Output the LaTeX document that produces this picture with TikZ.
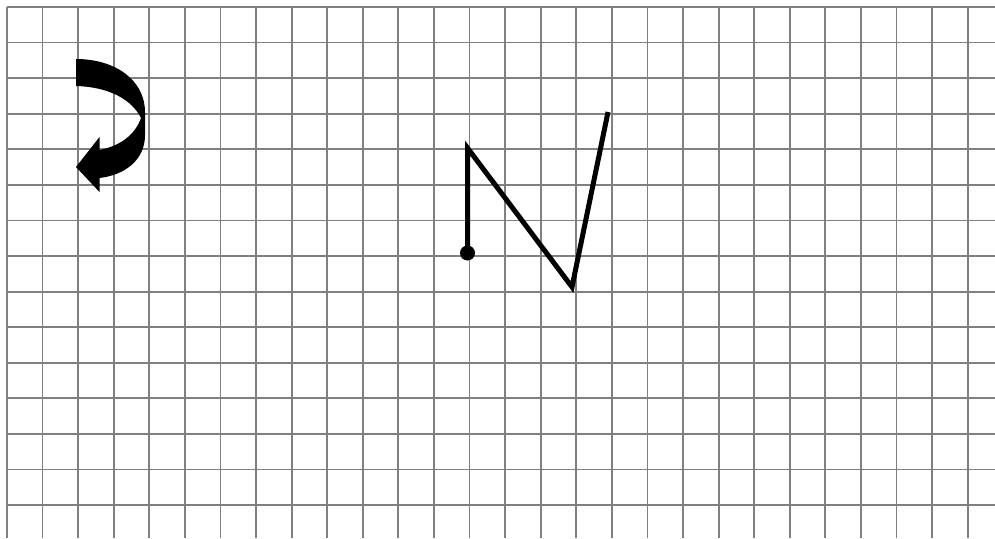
\documentclass[tikz,border=0pt]{standalone}
\begin{document}
\begin{tikzpicture}[x=1pt,y=-1pt,
  gridline/.style={draw=black!50,line width=1.8pt},
  zline/.style={draw=black,line width=5pt,line join=miter},
  dotmark/.style={fill=black}]
\useasboundingbox (0,0) rectangle (995,538);
\fill[white] (0,0) rectangle (995,538);
% grid
\foreach \i in {0,...,27} \draw[gridline] ({7+35.58*\i},7) -- ({7+35.58*\i},538);
\foreach \j in {0,...,14} \draw[gridline] (7,{7+35.58*\j}) -- (995,{7+35.58*\j});
% curved arrow
\fill[black] (76,59) .. controls (115,59) and (145,80) .. (145,112)
  -- (145,135) .. controls (145,160) and (125,175) .. (99.5,178)
  -- (99.5,192) -- (76,167) -- (99.5,137) -- (99.5,150)
  .. controls (120,146) and (135,135) .. (141,118)
  .. controls (132,100) and (110,87) .. (76,86) -- cycle;
% N polyline
\coordinate (p0) at (467.5,253);
\coordinate (p1) at (467.5,148);
\coordinate (p2) at (572,287);
\coordinate (p3) at (608,112);
\draw[zline] (p0) -- (p1) -- (p2) -- (p3);
\fill[dotmark] (p0) circle (7.5);
\end{tikzpicture}
\end{document}
